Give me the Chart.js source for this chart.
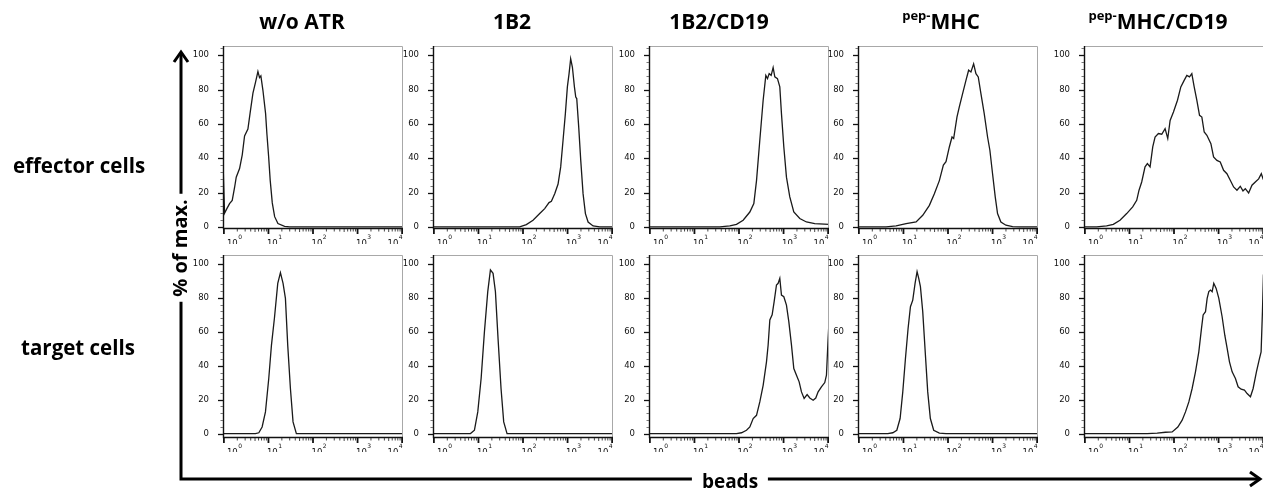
<!DOCTYPE html>
<html><head><meta charset="utf-8">
<script src="https://cdn.jsdelivr.net/npm/chart.js@4"></script>
<style>
html,body{margin:0;padding:0;background:#fff;width:1263px;height:491px;overflow:hidden;position:relative;}
canvas{position:absolute;}
.t{position:absolute;font-family:"Open Sans",sans-serif;font-weight:bold;color:#000;white-space:nowrap;line-height:1;}
.t sup{font-size:13px;vertical-align:0;position:relative;top:-9px;}
</style></head><body>
<script>
// ---------- data ----------
const titleSup  = ['', '', '', 'pep-', 'pep-'];
const titleMain = ['w/o ATR', '1B2', '1B2/CD19', 'MHC', 'MHC/CD19'];
const rowLabels = ['effector cells', 'target cells'];
const yAxisTitle = '% of max.';
const xAxisTitle = 'beads';
const yTickValues = [0, 20, 40, 60, 80, 100];
const xTickExponents = [0, 1, 2, 3, 4];

// x values are log10(fluorescence), y values are % of max.
const effWoAtrX = [-0.02,0.015,0.067,0.127,0.187,0.24,0.277,0.352,0.412,0.464,0.539,0.592,0.652,0.712,0.764,0.80,0.83,0.876,0.936,0.966,1.004,1.04,1.086,1.139,1.213,1.363,1.476,2.5,4.02];
const effWoAtrY = [38,8,10.7,13.6,15.5,23,29,34,42,53,57,67,78,84.5,90.5,87,88,79.6,66,54,41,27,14,6,2,0.4,0,0,0];

const eff1B2X = [-0.02,1.925,2.075,2.225,2.375,2.487,2.584,2.637,2.712,2.787,2.846,2.899,2.951,2.996,3.034,3.07,3.109,3.154,3.184,3.206,3.251,3.296,3.348,3.401,3.461,3.573,3.723,4.02];
const eff1B2Y = [0,0,1.4,3.9,7.8,10.7,14.2,15,19.4,25,35,50.5,66,81.6,89.3,98,93,81.6,75.7,74.8,58,38.8,19.4,7.8,2.9,0.6,0,0];

const eff1B2CD19X = [-0.02,1.57,1.794,1.944,2.093,2.243,2.333,2.393,2.467,2.542,2.602,2.64,2.677,2.722,2.766,2.804,2.863,2.916,2.953,3.006,3.065,3.14,3.23,3.364,3.514,3.7,4.02];
const eff1B2CD19Y = [0,0,0.6,1.5,3.9,8.7,13.6,27,50.5,73.8,88.3,86.4,89.3,88.3,92.8,87.4,86.4,81.6,66,46.6,29,17.5,8.7,4.9,2.9,1.9,1.5];

const effPepX = [-0.02,0.61,0.836,1.06,1.284,1.433,1.582,1.694,1.806,1.896,1.955,2.03,2.09,2.127,2.201,2.254,2.328,2.403,2.463,2.515,2.575,2.627,2.679,2.739,2.813,2.888,2.94,3.0,3.06,3.112,3.187,3.3,3.45,3.6,4.02];
const effPepY = [0,0,0.6,1.9,2.9,6.8,12.6,19.4,27,36,38,46.6,52.4,51.5,64,70,77.7,85.4,91.3,90.3,95,89.3,87.4,77.7,66,52.4,44.7,31,17.5,7.8,2.9,1,0.2,0,0];

const effPepCD19X = [-0.02,0.263,0.488,0.638,0.788,0.938,1.073,1.163,1.215,1.275,1.35,1.403,1.463,1.523,1.575,1.65,1.725,1.8,1.86,1.913,1.988,2.078,2.153,2.228,2.288,2.348,2.4,2.453,2.513,2.573,2.625,2.678,2.738,2.828,2.888,2.963,3.038,3.113,3.188,3.263,3.338,3.413,3.488,3.548,3.6,3.675,3.75,3.825,3.9,3.96,4.0,4.02];
const effPepCD19Y = [0,0,0.6,1.5,3.9,7.8,11.7,15.5,21.4,26.2,35,36.9,35,46.6,52.4,54.4,54,57.3,51.5,62,67,73.8,81.6,85.4,88.3,87.4,89.3,81.6,73.8,65,64,55.3,53.4,48.5,40.8,38.8,37.9,33,31,27.2,23.3,21.4,23.7,21,22.3,19.8,24.3,26.2,28,31,28,27];

const tgtWoAtrX = [-0.02,0.709,0.784,0.858,0.933,1.007,1.067,1.134,1.209,1.269,1.328,1.381,1.433,1.493,1.552,1.627,4.02];
const tgtWoAtrY = [0,0,0.5,3.9,12.8,32.5,52,68,88.6,94.9,88.6,79.7,52,26.6,6.9,0,0];

const tgt1B2X = [-0.02,0.709,0.821,0.91,0.985,1.06,1.134,1.209,1.269,1.328,1.381,1.44,1.507,1.567,1.642,1.791,4.02];
const tgt1B2Y = [0,0,0,2,12.8,32.5,60,83.7,96.5,94.5,83.7,56,26.6,6.9,0,0,0];

const tgt1B2CD19X = [-0.02,1.72,1.944,2.056,2.168,2.243,2.318,2.393,2.467,2.542,2.617,2.654,2.692,2.744,2.789,2.841,2.879,2.916,2.953,3.006,3.065,3.118,3.178,3.23,3.29,3.35,3.402,3.462,3.529,3.589,3.664,3.723,3.776,3.85,3.925,3.963,4.0,4.02];
const tgt1B2CD19Y = [0,0,0,0.5,2,3.9,8.9,10.8,18.7,28.5,42.3,52.2,67,70,77.8,87.6,88.6,91.5,81.7,80.7,75.8,66,52.2,38.4,34.4,30.5,24.6,20.7,23,21,19.7,21,24.6,27.6,30.1,34.4,56.1,66];

const tgtPepX = [-0.02,0.649,0.761,0.851,0.925,0.985,1.045,1.104,1.157,1.209,1.261,1.306,1.343,1.381,1.433,1.493,1.545,1.604,1.679,1.806,1.955,4.02];
const tgtPepY = [0,0,0.5,2,8.9,24.6,44.3,62,74.8,78.7,88.6,95.5,91.5,86.6,71.9,46.3,24.6,8.9,2,0.3,0,0];

const tgtPepCD19X = [-0.02,1.398,1.622,1.809,1.959,2.086,2.183,2.258,2.333,2.407,2.482,2.557,2.617,2.654,2.707,2.744,2.781,2.819,2.856,2.893,2.946,3.006,3.08,3.14,3.193,3.245,3.305,3.379,3.439,3.507,3.581,3.641,3.716,3.776,3.85,3.91,3.955,3.985,4.007,4.02];
const tgtPepCD19Y = [0,0,0.3,0.8,1,3.9,7.9,12.8,18.7,26.6,36.4,48.2,62,70,71.9,79.7,83.7,84.6,83.7,88.6,85.6,79.7,68.9,58,50.2,42.3,36.4,32.5,27.6,26.2,25.6,23.6,21.7,26.6,36.4,43.3,48.2,71.9,93.5,95];

const seriesGrid = [
  [[effWoAtrX,effWoAtrY],[eff1B2X,eff1B2Y],[eff1B2CD19X,eff1B2CD19Y],[effPepX,effPepY],[effPepCD19X,effPepCD19Y]],
  [[tgtWoAtrX,tgtWoAtrY],[tgt1B2X,tgt1B2Y],[tgt1B2CD19X,tgt1B2CD19Y],[tgtPepX,tgtPepY],[tgtPepCD19X,tgtPepCD19Y]]
];

// ---------- layout ----------
const colAxisX = [223, 433, 649, 858, 1084];
const plotW = 180, plotH = 182;
const rowTop = [46, 255];
const rowYRange = [[-0.6, 105.4], [-2, 105.3]];
const rowCanvasBottom = [244, 452];
const yAxisW = 40, padTop = 10;
const titleX = [302, 512, 719, 941, 1158];
const rowLabelY = [165, 347];
const rowLabelX = [79, 78];

const tickFont = '8.5px "DejaVu Sans"';
const supFont = '6px "DejaVu Sans"';

const framePlugin = {
  id: 'frame',
  afterDatasetsDraw(chart) {
    const {ctx, chartArea: a, scales: {x, y}} = chart;
    ctx.save();
    ctx.lineCap = 'butt';
    ctx.strokeStyle = '#a8a8a8'; ctx.lineWidth = 1;
    ctx.beginPath();
    ctx.moveTo(a.left, a.top + 0.5); ctx.lineTo(a.right - 0.5, a.top + 0.5); ctx.lineTo(a.right - 0.5, a.bottom);
    ctx.stroke();
    ctx.strokeStyle = '#111'; ctx.lineWidth = 1.4;
    ctx.beginPath();
    ctx.moveTo(a.left + 0.5, a.top); ctx.lineTo(a.left + 0.5, a.bottom + 0.5); ctx.lineTo(a.right, a.bottom + 0.5);
    ctx.stroke();
    for (let v = 0; v <= 104; v += 4) {
      if (v < y.min || v > y.max) continue;
      const py = Math.round(y.getPixelForValue(v)) + 0.5;
      const major = v % 20 === 0;
      ctx.lineWidth = major ? 1.3 : 0.8;
      ctx.strokeStyle = major ? '#111' : '#555';
      ctx.beginPath(); ctx.moveTo(a.left, py); ctx.lineTo(a.left - (major ? 5 : 2.5), py); ctx.stroke();
    }
    const xb = a.bottom + 1;
    for (let d = 0; d <= 4; d++) {
      const px = x.getPixelForValue(d);
      ctx.lineWidth = 1.8; ctx.strokeStyle = '#111';
      ctx.beginPath(); ctx.moveTo(px, xb); ctx.lineTo(px, xb + 5); ctx.stroke();
      if (d < 4) {
        for (let k = 2; k <= 9; k++) {
          const pm = x.getPixelForValue(d + Math.log10(k));
          ctx.lineWidth = 0.9; ctx.strokeStyle = '#333';
          ctx.beginPath(); ctx.moveTo(pm, xb); ctx.lineTo(pm, xb + (k === 5 ? 3 : 2.5)); ctx.stroke();
        }
      }
    }
    ctx.fillStyle = '#111';
    ctx.textBaseline = 'top';
    xTickExponents.forEach((e, i) => {
      const px = x.getPixelForValue(e);
      ctx.font = tickFont;
      const w10 = ctx.measureText('10').width;
      ctx.font = supFont;
      const wS = ctx.measureText(String(e)).width;
      let left;
      if (i === 0) left = px + 3;
      else if (i === xTickExponents.length - 1) left = px - w10 - wS;
      else left = px - 1.5;
      ctx.font = tickFont;
      ctx.fillText('10', left, a.bottom + 12);
      ctx.font = supFont;
      ctx.fillText(String(e), left + w10 + 0.5, a.bottom + 6.5);
    });
    ctx.restore();
  }
};

function makePanel(r, c) {
  const [xs, ys] = seriesGrid[r][c];
  const cv = document.createElement('canvas');
  const left = colAxisX[c] - yAxisW;
  const top = rowTop[r] - padTop;
  const w = yAxisW + plotW + 1;
  const h = rowCanvasBottom[r] - top;
  cv.width = w; cv.height = h;
  cv.style.left = left + 'px'; cv.style.top = top + 'px';
  cv.style.width = w + 'px'; cv.style.height = h + 'px';
  document.body.appendChild(cv);
  const xH = h - padTop - plotH;
  new Chart(cv, {
    type: 'line',
    data: { datasets: [{
      data: xs.map((xv, i) => ({x: xv, y: ys[i]})),
      borderColor: '#1a1a1a', borderWidth: 1.3, pointRadius: 0, tension: 0, fill: false
    }]},
    options: {
      responsive: false, maintainAspectRatio: false, animation: false, devicePixelRatio: 1,
      layout: { padding: { top: padTop, right: 1, left: 0, bottom: 0 } },
      plugins: { legend: { display: false }, tooltip: { enabled: false } },
      scales: {
        x: {
          type: 'linear', min: -0.02, max: 4.02,
          grid: { display: false }, border: { display: false },
          ticks: { display: false },
          afterFit(s) { s.height = xH; s.paddingLeft = 0; s.paddingRight = 0; }
        },
        y: {
          type: 'linear', min: rowYRange[r][0], max: rowYRange[r][1],
          grid: { display: false }, border: { display: false },
          afterBuildTicks(s) { s.ticks = yTickValues.map(v => ({value: v})); },
          ticks: { color: '#111', font: { family: 'DejaVu Sans', size: 8.5 }, padding: 6, autoSkip: false },
          afterFit(s) { s.width = yAxisW; s.paddingTop = 0; s.paddingBottom = 0; }
        }
      }
    },
    plugins: [framePlugin]
  });
}
for (let r = 0; r < 2; r++) for (let c = 0; c < 5; c++) makePanel(r, c);

// ---------- text & arrows ----------
function addText(html, x, y, size, extra) {
  const d = document.createElement('div');
  d.className = 't';
  d.innerHTML = html;
  d.style.fontSize = size + 'px';
  d.style.left = x + 'px'; d.style.top = y + 'px';
  d.style.transform = 'translate(-50%,-50%)' + (extra || '');
  document.body.appendChild(d);
  return d;
}
const svgNS = 'http://www.w3.org/2000/svg';
const svg = document.createElementNS(svgNS, 'svg');
svg.setAttribute('width', 1263); svg.setAttribute('height', 491);
svg.style.position = 'absolute'; svg.style.left = '0'; svg.style.top = '0';
svg.innerHTML =
  '<path d="M181 53 L181 479 L1259 479" fill="none" stroke="#000" stroke-width="3"/>' +
  '<path d="M174 62 L181 52 L188 62" fill="none" stroke="#000" stroke-width="3"/>' +
  '<path d="M1250 472 L1260 479 L1250 486" fill="none" stroke="#000" stroke-width="3"/>';
document.body.appendChild(svg);

titleMain.forEach((t, i) => {
  const html = titleSup[i] ? '<sup>' + titleSup[i] + '</sup>' + t : t;
  addText(html, titleX[i], 21, 21);
});
rowLabels.forEach((t, i) => addText(t, rowLabelX[i], rowLabelY[i], 20.5));
const ya = addText(yAxisTitle, 180, 248, 20, ' rotate(-90deg)');
ya.style.background = '#fff'; ya.style.padding = '0 5px';
const xa = addText(xAxisTitle, 730, 481, 19);
xa.style.background = '#fff'; xa.style.padding = '0 10px';
</script>
</body></html>
